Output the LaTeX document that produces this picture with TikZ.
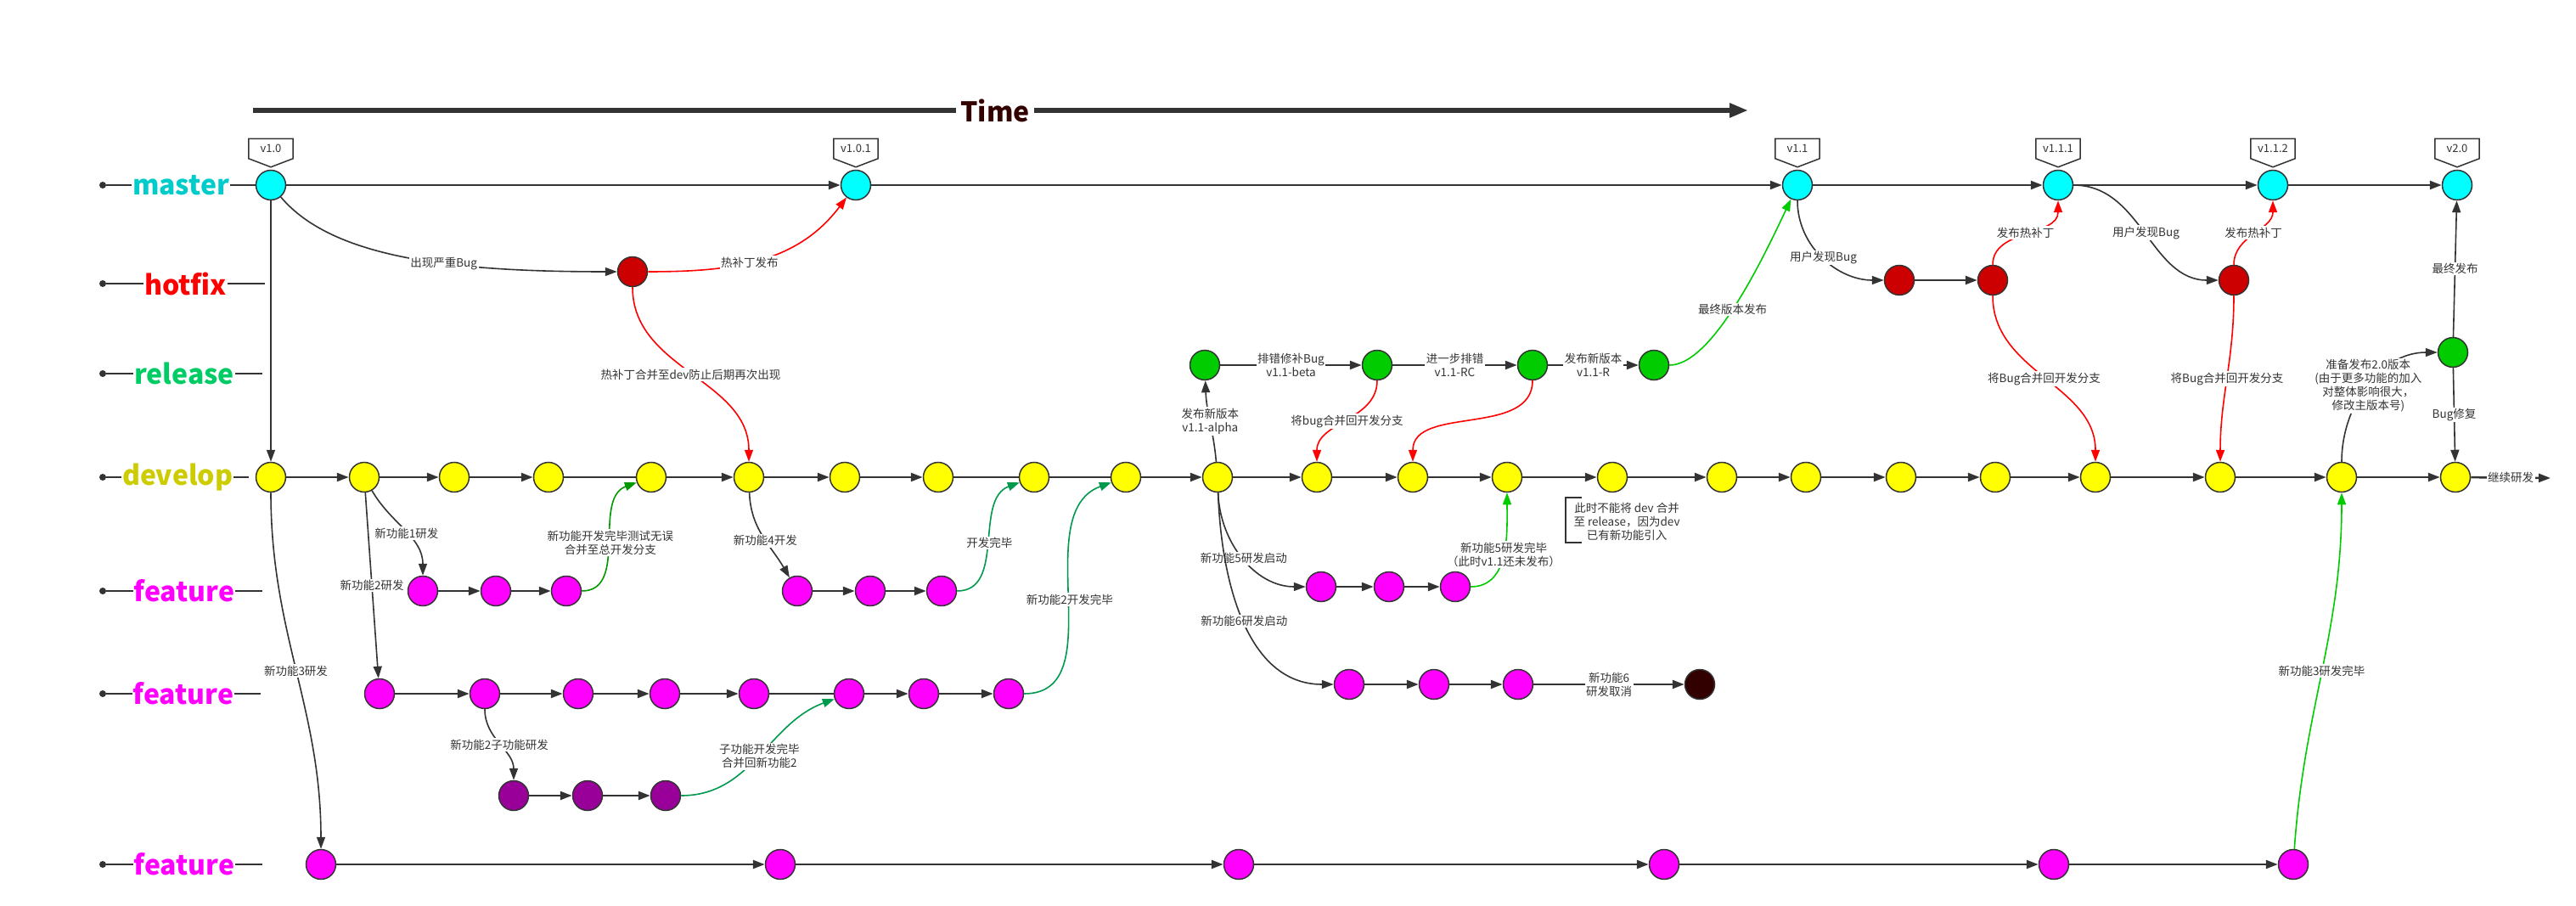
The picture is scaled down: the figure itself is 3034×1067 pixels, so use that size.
\documentclass[tikz,border=0pt]{standalone}
\usepackage{fontspec}
\setmainfont{Noto Sans CJK SC}
\usetikzlibrary{arrows.meta}
\definecolor{ink}{HTML}{333333}
\definecolor{cmaster}{HTML}{00FFFF}
\definecolor{chotfix}{HTML}{CC0000}
\definecolor{crelease}{HTML}{00CC00}
\definecolor{cdevelop}{HTML}{FFFF00}
\definecolor{cfeature}{HTML}{FF00FF}
\definecolor{csub}{HTML}{990099}
\definecolor{ccancel}{HTML}{330000}
\definecolor{lmaster}{HTML}{00CCCC}
\definecolor{lhotfix}{HTML}{FF0000}
\definecolor{lrelease}{HTML}{00CC66}
\definecolor{ldevelop}{HTML}{CCCC00}
\definecolor{lfeature}{HTML}{FF00FF}
\definecolor{gdark}{HTML}{009900}
\definecolor{gteal}{HTML}{00994D}
\definecolor{gbright}{HTML}{00CC00}
\definecolor{ctime}{HTML}{330000}
\tikzset{
  commit/.style={circle,draw=ink,line width=1.5pt,minimum size=35pt,inner sep=0pt},
  nmaster/.style={commit,fill=cmaster},
  nhot/.style={commit,fill=chotfix},
  nrel/.style={commit,fill=crelease},
  ndev/.style={commit,fill=cdevelop},
  nfeat/.style={commit,fill=cfeature},
  nsub/.style={commit,fill=csub},
  ncancel/.style={commit,fill=ccancel},
  headed/.style={-{Triangle[length=14pt,width=10pt]}},
  link/.style={draw=ink,line width=2.5pt,headed},
  plainlink/.style={draw=ink,line width=2.5pt},
  flow/.style={draw=ink,line width=1.6pt,headed},
  hotflow/.style={flow,draw=red},
  mergeA/.style={flow,draw=gdark},
  mergeB/.style={flow,draw=gteal},
  mergeC/.style={flow,draw=gbright},
  lbl/.style={fill=white,text=ink,font=\fontsize{13.5}{16}\selectfont,align=center,inner sep=1.5pt},
  branch/.style={fill=white,font=\fontsize{32}{36}\selectfont\bfseries,inner xsep=1pt,inner ysep=0pt},
  rowline/.style={draw=ink,line width=2pt},
  enddot/.style={circle,fill=ink,inner sep=0pt,minimum size=8pt},
  vtagbox/.style={rectangle,text=ink,font=\fontsize{13}{15}\selectfont,minimum width=52pt,minimum height=23pt,inner sep=1pt,anchor=south},
  tagline/.style={draw=ink,line width=1.5pt,line join=miter},
}
\newcommand{\versiontag}[3]{%
  \node[vtagbox] (#1) at ([yshift=13pt]#2.north) {#3};
  \draw[tagline] (#1.north west) -- (#1.north east) -- (#1.south east)
     -- ([yshift=-10pt]#1.south) -- (#1.south west) -- cycle;}
\begin{document}
\begin{tikzpicture}[x=1pt,y=1pt]
\useasboundingbox[fill=white] (0,0) rectangle (3034,-1067);

% ---------- Time axis ----------
\coordinate (t0) at (298,-130);
\coordinate (t1) at (2059,-130);
\draw[draw=ink,line width=5.5pt,-{Triangle[length=22pt,width=16pt]}] (t0) -- (t1);
\node[fill=white,text=ctime,font=\fontsize{32}{36}\selectfont\bfseries,inner xsep=5pt,inner ysep=0pt] (tm) at (1172,-130) {Time};

% ---------- commits ----------
\node[nmaster] (m1) at (319,-218) {};
\node[nmaster] (m2) at (1008,-218) {};
\node[nmaster] (m3) at (2117,-218) {};
\node[nmaster] (m4) at (2424,-218) {};
\node[nmaster] (m5) at (2677,-218) {};
\node[nmaster] (m6) at (2894,-218) {};

\node[nhot] (h1) at (745,-320) {};
\node[nhot] (h2) at (2237,-330) {};
\node[nhot] (h3) at (2347,-330) {};
\node[nhot] (h4) at (2631,-330) {};

\node[nrel] (r1) at (1419,-430) {};
\node[nrel] (r2) at (1622,-430) {};
\node[nrel] (r3) at (1805,-430) {};
\node[nrel] (r4) at (1948,-430) {};
\node[nrel] (r5) at (2889,-415) {};

\foreach \n/\x in {1/319,2/429,3/535,4/646,5/767,6/882,7/995,8/1105,9/1218,10/1326,11/1434,12/1551,13/1664,14/1775,15/1899,16/2028,17/2127,18/2239,19/2350,20/2468,21/2615,22/2758,23/2892}
  \node[ndev] (d\n) at (\x,-562) {};

\foreach \n/\x in {1/498,2/584,3/667,4/939,5/1025,6/1109}
  \node[nfeat] (f\n) at (\x,-696) {};
\foreach \n/\x in {7/1556,8/1636,9/1714}
  \node[nfeat] (f\n) at (\x,-691) {};

\foreach \n/\x in {1/447,2/571,3/681,4/783,5/888,6/1000,7/1088,8/1188}
  \node[nfeat] (g\n) at (\x,-817) {};
\foreach \n/\x in {9/1589,10/1689,11/1788}
  \node[nfeat] (g\n) at (\x,-806) {};
\node[ncancel] (g12) at (2002,-806) {};

\foreach \n/\x in {1/605,2/692,3/784}
  \node[nsub] (p\n) at (\x,-937) {};

\foreach \n/\x in {1/378,2/919,3/1459,4/1960,5/2419,6/2701}
  \node[nfeat] (k\n) at (\x,-1018) {};

% ---------- version tags ----------
\versiontag{tg1}{m1}{v1.0}
\versiontag{tg2}{m2}{v1.0.1}
\versiontag{tg3}{m3}{v1.1}
\versiontag{tg4}{m4}{v1.1.1}
\versiontag{tg5}{m5}{v1.1.2}
\versiontag{tg6}{m6}{v2.0}

% ---------- branch labels ----------
\node[enddot] (bM) at (121,-218) {};
\node[enddot] (bH) at (121,-334) {};
\node[enddot] (bR) at (121,-440) {};
\node[enddot] (bD) at (121,-562) {};
\node[enddot] (bF1) at (121,-696) {};
\node[enddot] (bF2) at (121,-817) {};
\node[enddot] (bF3) at (121,-1018) {};
\coordinate (eH) at (312,-334);
\coordinate (eR) at (309,-440);
\coordinate (eD) at (293,-562);
\coordinate (eF1) at (309,-696);
\coordinate (eF2) at (307,-817);
\coordinate (eF3) at (309,-1018);
\draw[rowline] (bM) -- node[branch,text=lmaster] (lM) {master} (m1);
\draw[rowline] (bH) -- node[branch,text=lhotfix] (lH) {hotfix} (eH);
\draw[rowline] (bR) -- node[branch,text=lrelease] (lR) {release} (eR);
\draw[rowline] (bD) -- node[branch,text=ldevelop] (lD) {develop} (eD);
\draw[rowline] (bF1) -- node[branch,text=lfeature] (lF1) {feature} (eF1);
\draw[rowline] (bF2) -- node[branch,text=lfeature] (lF2) {feature} (eF2);
\draw[rowline] (bF3) -- node[branch,text=lfeature] (lF3) {feature} (eF3);

% ---------- straight chains ----------
\foreach \a/\b in {m1/m2,m2/m3,m3/m4,m4/m5,m5/m6,h2/h3,
  d1/d2,d2/d3,d3/d4,d5/d6,d6/d7,d7/d8,d10/d11,d11/d12,d12/d13,d13/d14,d14/d15,d15/d16,d16/d17,d17/d18,d18/d19,d19/d20,d20/d21,d21/d22,d22/d23,
  f1/f2,f2/f3,f4/f5,f5/f6,f7/f8,f8/f9,
  g1/g2,g2/g3,g3/g4,g4/g5,g6/g7,g7/g8,g9/g10,g10/g11,
  p1/p2,p2/p3,k1/k2,k2/k3,k3/k4,k4/k5,k5/k6}
  \draw[link] (\a) -- (\b);
\foreach \a/\b in {d4/d5,d8/d9,d9/d10,g5/g6}
  \draw[plainlink] (\a) -- (\b);

\draw[link] (r1) -- node[lbl] (L18a) {排错修补Bug\\v1.1-beta} (r2);
\draw[link] (r2) -- node[lbl] (L18b) {进一步排错\\v1.1-RC} (r3);
\draw[link] (r3) -- node[lbl] (L18c) {发布新版本\\v1.1-R} (r4);
\draw[link] (g11) -- node[lbl] (L34) {新功能6\\研发取消} (g12);
\coordinate (dend) at (3004,-563);
\draw[link] (d23) -- node[lbl] (L33) {继续研发} (dend);

% ---------- branching / merging ----------
\draw[flow] (m1) -- (d1);
\draw[flow] (m1) to[out=-50,in=180,out looseness=0.6,in looseness=1.2] node[lbl,pos=0.6] (L1) {出现严重Bug} (h1);
\draw[hotflow] (h1) to[out=0,in=-127] node[lbl,pos=0.45] (L2) {热补丁发布} (m2);
\draw[hotflow] (h1) to[out=-90,in=90] node[lbl] (L3) {热补丁合并至dev防止后期再次出现} (d6);

\draw[flow] (d1) to[out=-90,in=90] node[lbl] (L5) {新功能3研发} (k1);
\draw[flow] (d2) to[out=-60,in=90] node[lbl,pos=0.53] (L6) {新功能1研发} (f1);
\draw[flow] (d2) -- node[lbl] (L7) {新功能2研发} (g1);
\draw[mergeA] (f3) to[out=0,in=200] node[lbl] (L8) {新功能开发完毕测试无误\\合并至总开发分支} (d5);
\draw[flow] (d6) to[out=-88,in=120] node[lbl,pos=0.55] (L9) {新功能4开发} (f4);
\draw[mergeB] (f6) to[out=0,in=200] node[lbl] (L10) {开发完毕} (d9);
\draw[mergeB] (g8) to[out=0,in=200] node[lbl] (L11) {新功能2开发完毕} (d10);
\draw[flow] (g2) to[out=-90,in=90] node[lbl] (L12) {新功能2子功能研发} (p1);
\draw[mergeB] (p3) to[out=0,in=200] node[lbl] (L13) {子功能开发完毕\\合并回新功能2} (g6);

\draw[flow] (d11) to[out=95,in=-88] node[lbl] (L14) {发布新版本\\v1.1-alpha} (r1);
\draw[flow] (d11) to[out=-88,in=180] node[lbl] (L15) {新功能5研发启动} (f7);
\draw[flow] (d11) to[out=-88,in=180] node[lbl] (L16) {新功能6研发启动} (g9);
\draw[mergeC] (f9) to[out=0,in=-90] node[lbl] (L17) {新功能5研发完毕\\（此时v1.1还未发布）} (d14);

\draw[hotflow] (r2) to[out=-90,in=90] node[lbl] (L19) {将bug合并回开发分支} (d12);
\draw[hotflow] (r3) to[out=-90,in=90] (d13);
\draw[mergeC] (r4) to[out=0,in=-115,out looseness=0.5] node[lbl] (L21) {最终版本发布} (m3);

\draw[flow] (m3) to[out=-90,in=180] node[lbl] (L22) {用户发现Bug} (h2);
\draw[hotflow] (h3) to[out=90,in=-90] node[lbl] (L24) {发布热补丁} (m4);
\draw[flow] (m4) to[out=0,in=180] node[lbl] (L25) {用户发现Bug} (h4);
\draw[hotflow] (h4) to[out=90,in=-90] node[lbl] (L26) {发布热补丁} (m5);
\draw[hotflow] (h3) to[out=-90,in=90] node[lbl] (L27) {将Bug合并回开发分支} (d20);
\draw[hotflow] (h4) to[out=-90,in=90] node[lbl] (L28) {将Bug合并回开发分支} (d21);

\draw[flow] (d22) to[out=90,in=180] node[lbl] (L29) {准备发布2.0版本\\(由于更多功能的加入\\对整体影响很大，\\修改主版本号)} (r5);
\draw[flow] (r5) -- node[lbl] (L30) {最终发布} (m6);
\draw[flow] (r5) -- node[lbl] (L31) {Bug修复} (d23);
\draw[mergeC] (k6) to[out=86,in=-90] node[lbl] (L32) {新功能3研发完毕} (d22);

% ---------- note ----------
\node[lbl,fill=none] (note) at (1916,-614) {此时不能将 dev 合并\\至 release，因为dev\\已有新功能引入};
\draw[draw=ink,line width=2pt] (1863,-586) -- (1844,-586) -- (1844,-639) -- (1863,-639);
\end{tikzpicture}
\end{document}
